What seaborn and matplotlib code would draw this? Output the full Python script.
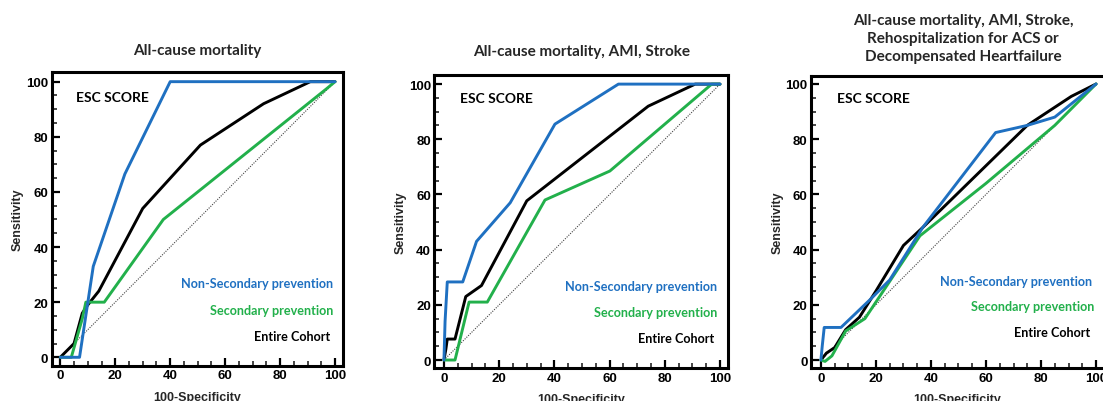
import matplotlib
matplotlib.use("Agg")
import matplotlib.pyplot as plt
from matplotlib.ticker import MultipleLocator
import seaborn as sns

sns.set_theme(style="ticks")
plt.rcParams['font.family'] = ['Liberation Sans', 'DejaVu Sans']

# ---------------- data ----------------
titles = [
    "All-cause mortality",
    "All-cause mortality, AMI, Stroke",
    "All-cause mortality, AMI, Stroke,\nRehospitalization for ACS or\nDecompensated Heartfailure",
]

# Panel 1
p1_nonsec_x = [0, 7, 12, 23.5, 40, 100]
p1_nonsec_y = [0, 0, 33, 66.5, 100, 100]
p1_entire_x = [0, 5, 8, 10, 14, 30, 51, 74, 91, 100]
p1_entire_y = [0, 5, 16, 19, 24, 54, 77, 92, 100, 100]
p1_sec_x = [0, 4, 8, 9.3, 16, 37.5, 97, 100]
p1_sec_y = [0, 0, 14, 20, 20, 50, 97.5, 100]

# Panel 2
p2_nonsec_x = [0, 0.4, 1.2, 6.8, 11.8, 24, 40.2, 63.2, 100]
p2_nonsec_y = [0, 14, 28.3, 28.3, 43, 57, 85.5, 100, 100]
p2_entire_x = [0, 0.7, 1.2, 4, 7.9, 13.6, 30, 74, 91, 100]
p2_entire_y = [0, 4, 7.6, 7.6, 23, 27, 57.7, 92, 100, 100]
p2_sec_x = [0, 4, 9.1, 15.7, 36.6, 60.1, 97, 100]
p2_sec_y = [0, 0, 21, 21, 58, 68.5, 100, 100]

# Panel 3
p3_nonsec_x = [0, 0.5, 1.2, 7.3, 18, 25, 37, 63.5, 75, 85, 100]
p3_nonsec_y = [0, 5.2, 11.8, 11.8, 22, 29, 48, 82.4, 85, 88, 100]
p3_entire_x = [0, 2, 5, 9, 14, 20, 30, 37, 75, 91, 100]
p3_entire_y = [0, 2.5, 4.5, 11, 15.5, 25, 41.5, 48, 85, 95.5, 100]
p3_sec_x = [0, 1.5, 4, 9, 16, 36, 60, 85, 100]
p3_sec_y = [0, -0.5, 1.5, 10.5, 15, 45, 64, 85, 100]

series_names = ["Non-Secondary prevention", "Secondary prevention", "Entire Cohort"]

panels = [
    (p1_nonsec_x, p1_nonsec_y, p1_sec_x, p1_sec_y, p1_entire_x, p1_entire_y),
    (p2_nonsec_x, p2_nonsec_y, p2_sec_x, p2_sec_y, p2_entire_x, p2_entire_y),
    (p3_nonsec_x, p3_nonsec_y, p3_sec_x, p3_sec_y, p3_entire_x, p3_entire_y),
]

BLUE = "#1f70c1"
GREEN = "#22b04b"
BLACK = "#000000"
colors = {"Non-Secondary prevention": BLUE, "Secondary prevention": GREEN,
          "Entire Cohort": BLACK}

# ---------------- figure ----------------
W, H = 1103, 402
fig = plt.figure(figsize=(W / 100, H / 100), dpi=100)

# axes frames in pixels: left, top, right, bottom
frames = [
    (51.7, 73.3, 343.0, 367.0),
    (434.3, 76.0, 728.3, 369.3),
    (811.0, 76.7, 1104.3, 369.3),
]
xlims = [(-3.13, 102.9), (-3.5, 103.0), (-3.6, 103.0)]
ylims = [(-3.16, 103.4), (-3.0, 103.3), (-3.0, 103.0)]

# label positions (data coords)
lab_pos = [
    dict(esc=(5.7, 94.6), non=(99.3, 26.8), sec=(99.3, 17.2), ent=(98.2, 7.8)),
    dict(esc=(5.8, 94.8), non=(99.0, 26.9), sec=(99.0, 17.3), ent=(97.8, 8.0)),
    dict(esc=(5.7, 94.8), non=(98.4, 28.6), sec=(99.3, 19.5), ent=(98.0, 10.0)),
]
title_y_px = [50.7, 52.3, 39.0]

label_font = ['Lato', 'DejaVu Sans']

for i, (frame, data) in enumerate(zip(frames, panels)):
    l, t, r, b = frame
    ax = fig.add_axes([l / W, 1 - b / H, (r - l) / W, (b - t) / H])
    nx, ny, sx, sy, ex, ey = data
    ax.plot([0, 100], [0, 100], linestyle=(0, (1, 1.2)), color="#444444", lw=0.8, zorder=1)
    for name, xs, ys in [("Entire Cohort", ex, ey), ("Secondary prevention", sx, sy),
                         ("Non-Secondary prevention", nx, ny)]:
        sns.lineplot(x=xs, y=ys, sort=False, estimator=None, ax=ax,
                     color=colors[name], lw=2.1, zorder=3)
    ax.set_xlim(*xlims[i])
    ax.set_ylim(*ylims[i])
    ax.xaxis.set_major_locator(MultipleLocator(20))
    ax.yaxis.set_major_locator(MultipleLocator(20))
    ax.xaxis.set_minor_locator(MultipleLocator(5))
    ax.yaxis.set_minor_locator(MultipleLocator(5))
    ax.tick_params(which='major', direction='in', length=6, width=1.6, pad=2.5,
                   labelsize=9.5, colors='black')
    ax.tick_params(which='minor', direction='in', length=3.5, width=1.2)
    for lbl in ax.get_xticklabels() + ax.get_yticklabels():
        lbl.set_fontweight('bold')
    for sp in ax.spines.values():
        sp.set_linewidth(2.2)
        sp.set_color('black')
        sp.set_visible(True)
    ax.set_xlabel("100-Specificity", fontsize=9, fontweight='bold', labelpad=7)
    ax.set_ylabel("Sensitivity", fontsize=9, fontweight='bold', labelpad=1.5)
    ax.grid(False)

    p = lab_pos[i]
    ax.text(*p['esc'], "ESC SCORE", fontsize=10, fontweight='bold', family=label_font,
            ha='left', va='center', color='black')
    ax.text(*p['non'], series_names[0], fontsize=9.1, fontweight='bold', family=label_font,
            ha='right', va='center', color=BLUE)
    ax.text(*p['sec'], series_names[1], fontsize=9.1, fontweight='bold', family=label_font,
            ha='right', va='center', color=GREEN)
    ax.text(*p['ent'], series_names[2], fontsize=9.1, fontweight='bold', family=label_font,
            ha='right', va='center', color='black')

    cx = (l + r) / 2 / W if i < 2 else 963 / W
    fig.text(cx, 1 - title_y_px[i] / H, titles[i], fontsize=11, fontweight='bold',
             family=label_font, ha='center', va='center', linespacing=1.4)

fig.savefig("out.png", dpi=100)
